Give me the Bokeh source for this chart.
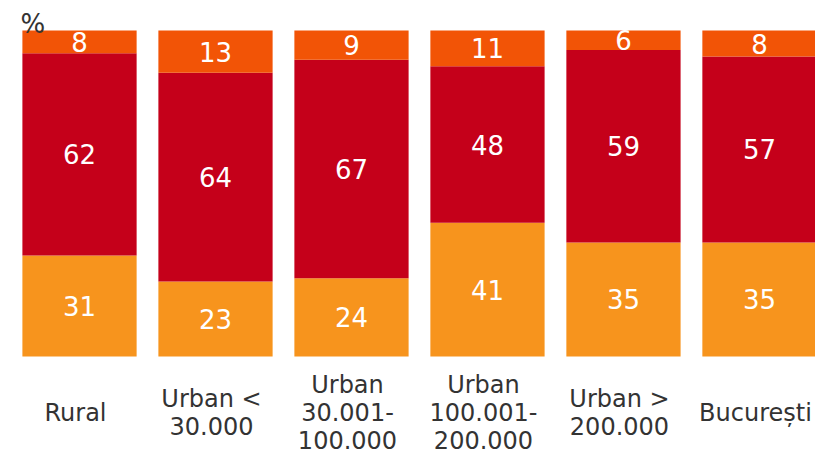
from bokeh.plotting import figure
from bokeh.models import ColumnDataSource, Range1d, Label
from bokeh.core.properties import value
from bokeh.embed import file_html
from bokeh.resources import INLINE

categories = ["Rural", "Urban <\n30.000", "Urban\n30.001-\n100.000",
              "Urban\n100.001-\n200.000", "Urban >\n200.000", "București"]
bottom_vals = [31, 23, 24, 41, 35, 35]
middle_vals = [62, 64, 67, 48, 59, 57]
top_vals = [8, 13, 9, 11, 6, 8]

C_BOTTOM = "#F7941D"
C_MIDDLE = "#C5001A"
C_TOP = "#F25406"
FONT = "DejaVu Sans"

xs = list(range(len(categories)))
b0 = [0] * len(xs)
b1 = [a for a in bottom_vals]
b2 = [a + b for a, b in zip(bottom_vals, middle_vals)]
b3 = [min(a + b + c, 100) for a, b, c in zip(bottom_vals, middle_vals, top_vals)]

src = ColumnDataSource(dict(
    x=xs, cat=categories,
    b0=b0, b1=b1, b2=b2, b3=b3,
    bl=[str(v) for v in bottom_vals], ml=[str(v) for v in middle_vals], tl=[str(v) for v in top_vals],
    by=[(a + b) / 2 for a, b in zip(b0, b1)],
    my=[(a + b) / 2 for a, b in zip(b1, b2)],
    ty=[(a + b) / 2 for a, b in zip(b2, b3)],
    ly=[-17.3] * len(xs),
))

p = figure(width=815, height=454, output_backend="svg", toolbar_location=None,
           x_range=Range1d(-0.581, 5.412), y_range=Range1d(-30.06, 109.2),
           min_border_left=0, min_border_right=0, min_border_top=0, min_border_bottom=0)
p.xaxis.visible = False
p.yaxis.visible = False
p.grid.visible = False
p.outline_line_color = None
p.background_fill_color = "white"

W = 0.84
p.vbar(x="x", bottom="b0", top="b1", width=W, source=src, fill_color=C_BOTTOM, line_color=None)
p.vbar(x="x", bottom="b1", top="b2", width=W, source=src, fill_color=C_MIDDLE, line_color=None)
p.vbar(x="x", bottom="b2", top="b3", width=W, source=src, fill_color=C_TOP, line_color=None)

for ycol, tcol in (("by", "bl"), ("my", "ml"), ("ty", "tl")):
    p.text(x="x", y=ycol, text=tcol, source=src, text_color="white",
           text_font=value(FONT), text_font_size="26px",
           text_align="center", text_baseline="middle")

p.text(x="x", y="ly", text="cat", source=src, text_color="#333333",
       text_font=value(FONT), text_font_size="24px", text_line_height=1.0,
       text_align="center", text_baseline="middle", x_offset=-4)

pct = Label(x=-0.434, y=100, text="%", text_color="#333333", text_font=FONT,
            text_font_size="26px", text_baseline="alphabetic", y_offset=6)
p.add_layout(pct)

open("out.html", "w").write(file_html(p, INLINE))
